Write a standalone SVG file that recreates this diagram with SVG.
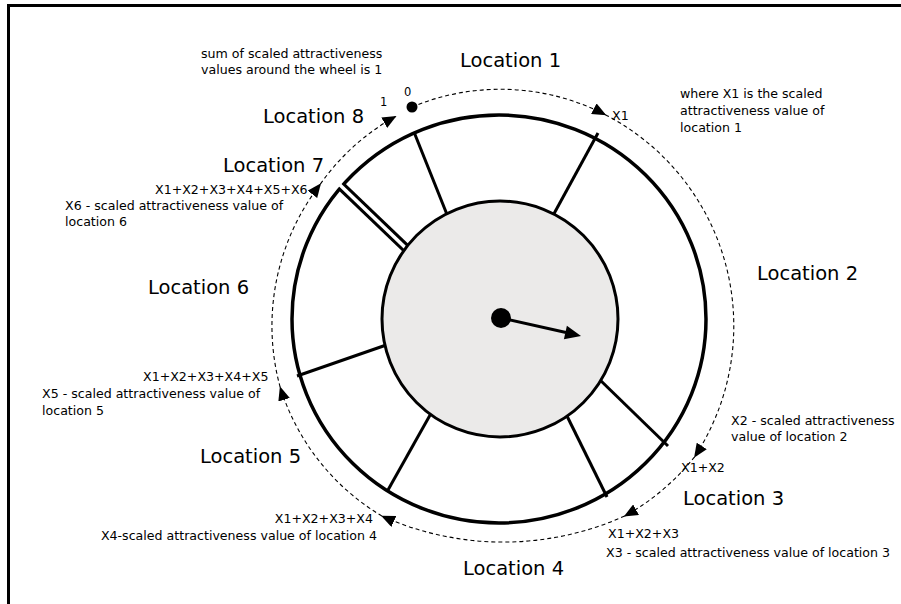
<svg xmlns="http://www.w3.org/2000/svg" width="901" height="604" viewBox="0 0 901 604">
  <style>
    .loc { font-family: "DejaVu Sans", "Noto Sans", sans-serif; font-size: 19.5px; fill: #000; }
    .note { font-family: "DejaVu Sans", "Noto Sans", sans-serif; font-size: 12.6px; fill: #000; }
    .tick { font-family: "DejaVu Sans", "Noto Sans", sans-serif; font-size: 11.5px; fill: #000; }
    .rim { fill: #fff; stroke: #000; stroke-width: 3.5; }
    .hub { fill: #ebeae9; stroke: #000; stroke-width: 3; }
    .spoke { stroke: #000; stroke-width: 3; fill: none; }
    .flow { fill: none; stroke: #000; stroke-width: 1.1; stroke-dasharray: 4 3; marker-end: url(#tri); }
  </style>
  <defs>
    <marker id="tri" markerUnits="userSpaceOnUse" viewBox="0 0 14 12" markerWidth="14" markerHeight="12" refX="13" refY="6" orient="auto">
      <path d="M0,0 L14,6 L0,12 z" fill="#000"/>
    </marker>
  </defs>

  <rect x="0" y="0" width="901" height="604" fill="#fff"/>
  <!-- frame -->
  <path d="M8.5,610 L8.5,5.5 L910,5.5" fill="none" stroke="#000" stroke-width="3"/>

  <!-- wheel -->
  <g id="wheel">
    <ellipse class="rim" cx="499" cy="319" rx="207" ry="204"/>
    <line class="spoke" x1="450" y1="222" x2="414" y2="132"/>
    <line class="spoke" x1="550" y1="221" x2="598" y2="133"/>
    <line x1="342" y1="187" x2="412" y2="254" stroke="#000" stroke-width="9.5"/>
    <line x1="340" y1="185" x2="414" y2="256" stroke="#fff" stroke-width="3.5"/>
    <line class="spoke" x1="392" y1="343" x2="297" y2="376"/>
    <line class="spoke" x1="434" y1="408" x2="388" y2="490"/>
    <line class="spoke" x1="565" y1="412" x2="607" y2="497"/>
    <line class="spoke" x1="598" y1="378" x2="668" y2="446"/>
    <circle class="hub" cx="500" cy="319" r="118"/>
  </g>

  <!-- pointer -->
  <g id="pointer">
    <circle cx="501" cy="318" r="10" fill="#000"/>
    <line x1="501" y1="318" x2="566" y2="332.5" stroke="#000" stroke-width="3"/>
    <polygon points="581,336 563.9,339.3 566.9,325.7" fill="#000"/>
  </g>

  <!-- cumulative flow around the wheel -->
  <g id="connectors">
    <circle cx="412" cy="107" r="5.5" fill="#000"/>
    <path class="flow" d="M412,107 A229,229 0 0,1 605.4,114.7"/>
    <path class="flow" d="M605.4,114.7 A238,238 0 0,1 694.6,456.8"/>
    <path class="flow" d="M694.6,456.8 A234,234 0 0,1 624.7,516"/>
    <path class="flow" d="M624.7,516 A296,296 0 0,1 382,516.1"/>
    <path class="flow" d="M382,516.1 A230,230 0 0,1 280.2,387.3"/>
    <path class="flow" d="M280.2,387.3 A232,232 0 0,1 320.4,184.1"/>
    <path class="flow" d="M320.4,184.1 A226,226 0 0,1 395.6,116.4"/>
  </g>

  <!-- location labels -->
  <g id="location-1"><text class="loc" x="460" y="67">Location 1</text></g>
  <g id="location-2"><text class="loc" x="757" y="280">Location 2</text></g>
  <g id="location-3"><text class="loc" x="683" y="505">Location 3</text></g>
  <g id="location-4"><text class="loc" x="463" y="575">Location 4</text></g>
  <g id="location-5"><text class="loc" x="200" y="463">Location 5</text></g>
  <g id="location-6"><text class="loc" x="148" y="294">Location 6</text></g>
  <g id="location-7"><text class="loc" x="223" y="172">Location 7</text></g>
  <g id="location-8"><text class="loc" x="263" y="123">Location 8</text></g>

  <!-- notes -->
  <g id="notes">
    <text class="note" x="201" y="58">sum of scaled attractiveness</text>
    <text class="note" x="201" y="74">values around the wheel is 1</text>
    <text class="tick" x="404" y="96">0</text>
    <text class="tick" x="380" y="106">1</text>

    <text class="note" x="680" y="98">where X1 is the scaled</text>
    <text class="note" x="680" y="115">attractiveness value of</text>
    <text class="note" x="680" y="132">location 1</text>
    <text class="note" x="612" y="120">X1</text>

    <text class="note" x="731" y="425">X2 - scaled attractiveness</text>
    <text class="note" x="731" y="441">value of location 2</text>
    <text class="note" x="681" y="472">X1+X2</text>

    <text class="note" x="608" y="538">X1+X2+X3</text>
    <text class="note" x="606" y="557">X3 - scaled attractiveness value of location 3</text>

    <text class="note" x="373" y="523" text-anchor="end">X1+X2+X3+X4</text>
    <text class="note" x="377" y="540" text-anchor="end">X4-scaled attractiveness value of location 4</text>

    <text class="note" x="143" y="381">X1+X2+X3+X4+X5</text>
    <text class="note" x="42" y="398">X5 - scaled attractiveness value of</text>
    <text class="note" x="42" y="415">location 5</text>

    <text class="note" x="155" y="194">X1+X2+X3+X4+X5+X6</text>
    <text class="note" x="65" y="210">X6 - scaled attractiveness value of</text>
    <text class="note" x="65" y="226">location 6</text>
  </g>
</svg>
